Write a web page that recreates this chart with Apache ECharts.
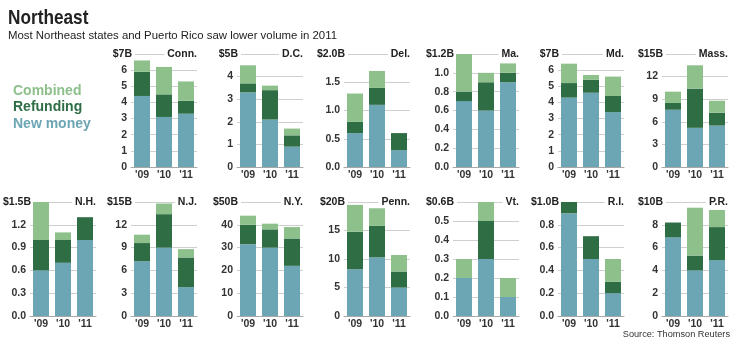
<!DOCTYPE html>
<html>
<head>
<meta charset="utf-8">
<script src="https://cdn.jsdelivr.net/npm/echarts@6/dist/echarts.min.js"></script>
<style>
  html, body { margin: 0; padding: 0; background: #fff; }
  #chart { width: 740px; height: 348px; }
</style>
</head>
<body>
<div id="chart"></div>
<script>
// Municipal bond volume by state, in billions of dollars
const states = ['Conn.', 'D.C.', 'Del.', 'Ma.', 'Md.', 'Mass.', 'N.H.', 'N.J.', 'N.Y.', 'Penn.', 'Vt.', 'R.I.', 'P.R.'];
const years = ["'09", "'10", "'11"];
const newMoney = [
  [4.4, 3.1, 3.3], [3.3, 2.1, 0.9], [0.6, 1.1, 0.3], [0.7, 0.6, 0.9], [4.3, 4.6, 3.4], [7.6, 5.2, 5.5],
  [0.6, 0.7, 1.0], [7.2, 9.0, 3.8], [31.5, 30, 22], [8.2, 10.3, 5.0], [0.2, 0.3, 0.1], [0.9, 0.5, 0.2], [6.9, 4.0, 4.9]
];
const refunding = [
  [1.5, 1.4, 0.8], [0.4, 1.3, 0.5], [0.2, 0.3, 0.3], [0.1, 0.3, 0.1], [0.9, 0.8, 1.0], [0.9, 5.2, 1.7],
  [0.4, 0.3, 0.3], [2.4, 4.4, 3.9], [8.5, 8, 12], [6.6, 5.5, 2.8], [0, 0.2, 0], [0.1, 0.2, 0.1], [1.3, 1.3, 2.9]
];
const combined = [
  [0.7, 1.7, 1.2], [0.8, 0.2, 0.3], [0.5, 0.3, 0], [0.4, 0.1, 0.1], [1.2, 0.3, 1.2], [1.5, 3.1, 1.6],
  [0.5, 0.1, 0], [1.1, 1.4, 1.1], [4, 2.5, 5], [4.7, 3.1, 2.9], [0.1, 0.1, 0.1], [0, 0, 0.2], [0, 4.2, 1.5]
];
const axisMax = [7, 5, 2, 1.2, 7, 15, 1.5, 15, 50, 20, 0.6, 1, 10];
const tickStep = [1, 1, 0.5, 0.2, 1, 3, 0.3, 3, 10, 5, 0.1, 0.2, 2];
const tickDecimals = [0, 0, 1, 1, 0, 0, 1, 0, 0, 0, 1, 1, 0];
const topLabels = ['$7B', '$5B', '$2.0B', '$1.2B', '$7B', '$15B', '$1.5B', '$15B', '$50B', '$20B', '$0.6B', '$1.0B', '$10B'];
const seriesNames = ['New money', 'Refunding', 'Combined'];

// Layout: panel columns and rows
const colLeft = [30, 131, 237, 344, 453, 558, 662];
const gridWidth = 66;
const rows = [{ top: 54, height: 113 }, { top: 202, height: 114 }];
const placement = [
  [0, 1], [0, 2], [0, 3], [0, 4], [0, 5], [0, 6],
  [1, 0], [1, 1], [1, 2], [1, 3], [1, 4], [1, 5], [1, 6]
];
const colors = { 'New money': '#6ca5b3', 'Refunding': '#2f6d45', 'Combined': '#8dc08b' };
const sans = '"Liberation Sans", Arial, sans-serif';
const narrowScale = 0.82;

const grids = [], xAxes = [], yAxes = [], series = [], graphics = [];
const valueSets = [newMoney, refunding, combined];

states.forEach((st, i) => {
  const [r, c] = placement[i];
  const left = colLeft[c];
  const top = rows[r].top;
  grids.push({ left: left, top: top, width: gridWidth, height: rows[r].height });
  xAxes.push({
    type: 'category', gridIndex: i, data: years,
    axisTick: { show: false },
    axisLine: { lineStyle: { color: '#a8a8a8', width: 1 } },
    axisLabel: { margin: 3, fontSize: 10.5, fontWeight: 'bold', fontFamily: sans, color: '#333' }
  });
  const max = axisMax[i], step = tickStep[i], dec = tickDecimals[i];
  yAxes.push({
    type: 'value', gridIndex: i, min: 0, max: max, interval: step,
    axisLine: { show: false }, axisTick: { show: false },
    splitLine: { lineStyle: { color: '#cfcfcf', width: 1 } },
    axisLabel: {
      margin: 4, fontSize: 10.5, fontWeight: 'bold', fontFamily: sans, color: '#333',
      formatter: v => (v >= max - step / 2 ? '' : v.toFixed(dec))
    }
  });
  seriesNames.forEach((name, k) => {
    series.push({
      type: 'bar', name: name, xAxisIndex: i, yAxisIndex: i, stack: 'st' + i,
      barWidth: 16, data: valueSets[k][i],
      itemStyle: { color: colors[name] }, emphasis: { disabled: true }
    });
  });
  // amount label and state name sitting on the top gridline
  graphics.push({
    type: 'text', x: left + 4, y: top, z: 1,
    style: {
      text: topLabels[i], align: 'right', verticalAlign: 'middle',
      font: 'bold 10.5px ' + sans, fill: '#222', backgroundColor: '#fff', padding: [1, 3, 1, 1]
    }
  });
  graphics.push({
    type: 'text', x: left + gridWidth + 1, y: top, z: 1,
    style: {
      text: st, align: 'right', verticalAlign: 'middle',
      font: 'bold 10.5px ' + sans, fill: '#222', backgroundColor: '#fff', padding: [1, 1, 1, 3]
    }
  });
});

// Heading, subheading and source line
graphics.push({
  type: 'text', x: 8, y: 18, scaleX: narrowScale,
  style: { text: 'Northeast', align: 'left', verticalAlign: 'middle', font: 'bold 21px ' + sans, fill: '#222' }
});
graphics.push({
  type: 'text', x: 8, y: 36,
  style: {
    text: 'Most Northeast states and Puerto Rico saw lower volume in 2011',
    align: 'left', verticalAlign: 'middle', font: '11.4px ' + sans, fill: '#222'
  }
});
graphics.push({
  type: 'text', x: 730, y: 334,
  style: { text: 'Source: Thomson Reuters', align: 'right', verticalAlign: 'middle', font: '9.2px ' + sans, fill: '#333' }
});

const chart = echarts.init(document.getElementById('chart'), null, { renderer: 'canvas' });
chart.setOption({
  animation: false,
  backgroundColor: '#fff',
  legend: {
    orient: 'vertical', left: 3, top: 78, itemWidth: 0, itemHeight: 0, itemGap: 0.5,
    selectedMode: false,
    textStyle: { fontSize: 14, fontWeight: 'bold', fontFamily: sans, lineHeight: 16 },
    data: ['Combined', 'Refunding', 'New money'].map(n => ({ name: n, icon: 'rect', textStyle: { color: colors[n] } }))
  },
  grid: grids,
  xAxis: xAxes,
  yAxis: yAxes,
  series: series,
  graphic: graphics
});
</script>
</body>
</html>
